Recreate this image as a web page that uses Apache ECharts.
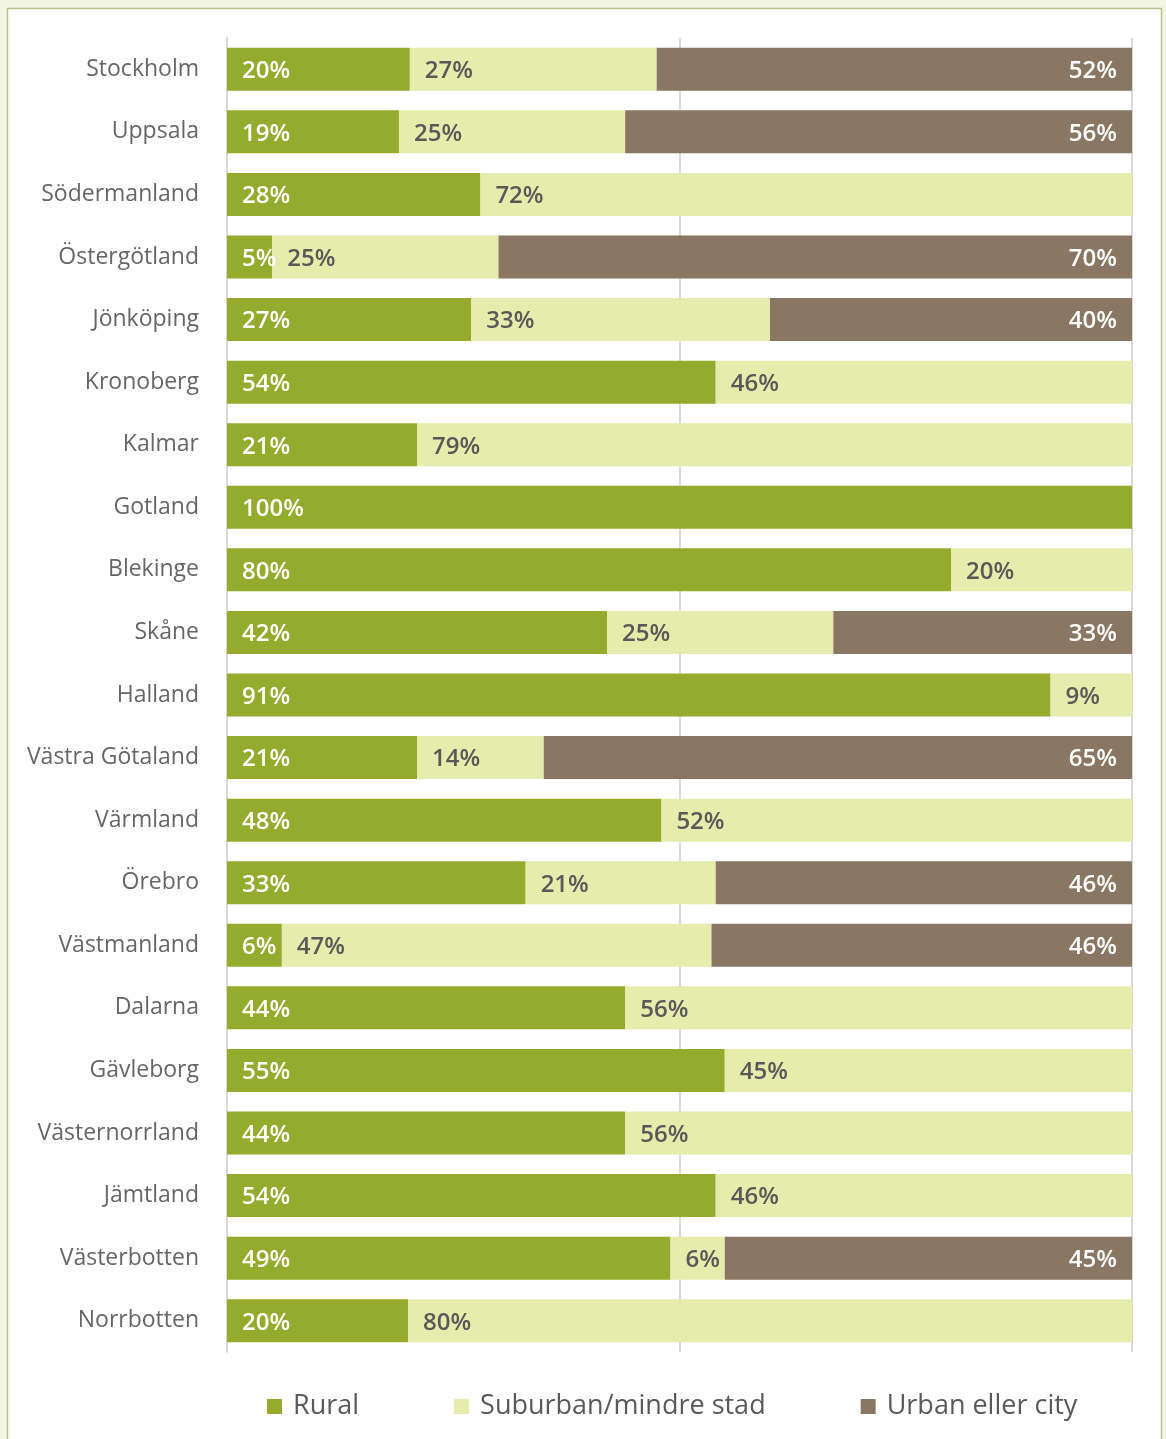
<!DOCTYPE html>
<html>
<head>
<meta charset="utf-8">
<script src="https://cdn.jsdelivr.net/npm/echarts@6/dist/echarts.min.js"></script>
<style>
  html, body { margin: 0; padding: 0; background: #f3f6e5; }
  #chart { width: 1166px; height: 1439px; }
</style>
</head>
<body>
<div id="chart"></div>
<script>
// Share of population by area type per county (percent)
const counties = [
  'Stockholm', 'Uppsala', 'Södermanland', 'Östergötland', 'Jönköping',
  'Kronoberg', 'Kalmar', 'Gotland', 'Blekinge', 'Skåne', 'Halland',
  'Västra Götaland', 'Värmland', 'Örebro', 'Västmanland', 'Dalarna',
  'Gävleborg', 'Västernorrland', 'Jämtland', 'Västerbotten', 'Norrbotten'
];
const rural    = [20, 19, 28,  5, 27, 54, 21, 100, 80, 42, 91, 21, 48, 33,  6, 44, 55, 44, 54, 49, 20];
const suburban = [27, 25, 72, 25, 33, 46, 79,   0, 20, 25,  9, 14, 52, 21, 47, 56, 45, 56, 46,  6, 80];
const urban    = [52, 56,  0, 70, 40,  0,  0,   0,  0, 33,  0, 65,  0, 46, 46,  0,  0,  0,  0, 45,  0];

const seriesNames = ['Rural', 'Suburban/mindre stad', 'Urban eller city'];
const colors = ['#95ab2e', '#e6ecac', '#8a7763'];

// Each row is drawn as a 100% stacked bar: values are scaled by the row total
const totals = counties.map((_, i) => rural[i] + suburban[i] + urban[i]);
function shares(arr) {
  return arr.map((v, i) => v > 0 ? { value: v / totals[i] * 100, raw: v } : { value: null, raw: 0 });
}

const font = '"Open Sans", "Noto Sans", sans-serif';
const labelBase = { show: true, fontFamily: font, fontSize: 24, fontWeight: 600, distance: 15,
  offset: [0, 2],
  formatter: p => p.data && p.data.raw ? p.data.raw + '%' : '' };

const chart = echarts.init(document.getElementById('chart'), null, { renderer: 'canvas' });
chart.setOption({
  animation: false,
  backgroundColor: '#f3f6e5',
  graphic: [{
    type: 'rect', z: -10, silent: true,
    shape: { x: 7.5, y: 8.5, width: 1154, height: 1440 },
    style: { fill: '#ffffff', stroke: '#b5c38d', lineWidth: 1.5 }
  }],
  grid: { left: 227, right: 34, top: 38, bottom: 87 },
  xAxis: {
    type: 'value', min: 0, max: 100, interval: 50,
    axisLabel: { show: false }, axisTick: { show: false }, axisLine: { show: false },
    splitLine: { show: true, lineStyle: { color: '#d9d9d9', width: 2 } }
  },
  yAxis: {
    type: 'category', inverse: true, data: counties,
    axisTick: { show: false },
    axisLine: { show: true, lineStyle: { color: '#d9d9d9', width: 2 } },
    axisLabel: { margin: 28, fontFamily: font, fontSize: 23, color: '#666666', padding: [6, 0, 0, 0] }
  },
  legend: {
    bottom: 14, left: 262, itemGap: 95, itemWidth: 15, itemHeight: 15,
    icon: 'rect',
    textStyle: { fontFamily: font, fontSize: 27, color: '#595959', padding: [0, 0, 0, 6] },
    data: seriesNames
  },
  series: [
    {
      name: seriesNames[0], type: 'bar', stack: 'all', barWidth: 43,
      itemStyle: { color: colors[0] },
      label: Object.assign({}, labelBase, { position: 'insideLeft', color: '#ffffff' }),
      data: shares(rural)
    },
    {
      name: seriesNames[1], type: 'bar', stack: 'all', barWidth: 43,
      itemStyle: { color: colors[1] },
      label: Object.assign({}, labelBase, { position: 'insideLeft', color: '#595959' }),
      data: shares(suburban)
    },
    {
      name: seriesNames[2], type: 'bar', stack: 'all', barWidth: 43,
      itemStyle: { color: colors[2] },
      label: Object.assign({}, labelBase, { position: 'insideRight', color: '#ffffff' }),
      data: shares(urban)
    }
  ]
});
</script>
</body>
</html>
